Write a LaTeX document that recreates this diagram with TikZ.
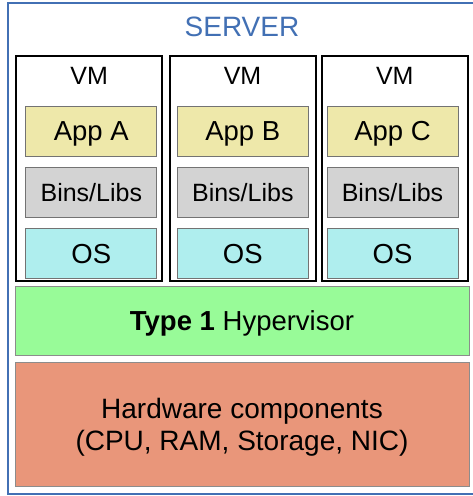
\documentclass[tikz,border=0pt]{standalone}
\usepackage{fontspec}
\setmainfont{Liberation Sans}
\usetikzlibrary{positioning}

\definecolor{serverblue}{RGB}{66,112,180}
\definecolor{appyellow}{RGB}{238,232,170}
\definecolor{binsgray}{RGB}{211,211,211}
\definecolor{oscyan}{RGB}{175,238,238}
\definecolor{hvgreen}{RGB}{152,251,152}
\definecolor{hwsalmon}{RGB}{233,150,122}

\begin{document}
\begin{tikzpicture}[x=1pt,y=-1pt,
    vmbox/.style={draw=black, line width=2pt, minimum width=146pt, minimum height=225pt, inner sep=0pt},
    vmlabel/.style={font=\fontsize{25}{29}\selectfont, inner sep=0pt, text height=17.9pt, text depth=0pt},
    layer/.style={draw=black!55, line width=0.9pt, inner sep=0pt, minimum width=131pt, minimum height=50pt, text depth=0pt},
    wide/.style={draw=black!45, line width=0.9pt, inner sep=0pt, minimum width=454pt, align=center}]
    \path [use as bounding box] (0,0) rectangle (472,496);
    \draw [serverblue, line width=2pt] (8,3) rectangle (490,494);
    \node [serverblue, font=\fontsize{28}{32}\selectfont, inner sep=0pt, text height=20pt, text depth=0pt] (server) at (242,26.7) {SERVER};
    % three virtual machines
    \foreach \vx/\bx/\app [count=\i] in {89.2/91.3/A, 242.5/242.8/B, 394.8/392.5/C}
    {
      \node [vmbox] (vm\i) at (\vx,168.5) {};
      \node [vmlabel] (vmlabel\i) at (\vx,76) {VM};
      \node [layer, fill=appyellow, font=\fontsize{27.5}{31}\selectfont, text height=19.7pt] (app\i) at (\bx,131) {App \app};
      \node [layer, fill=binsgray, font=\fontsize{25}{29}\selectfont, text height=17.9pt, below=11pt of app\i] (bins\i) {Bins/Libs};
      \node [layer, fill=oscyan, font=\fontsize{27.5}{31}\selectfont, text height=19.7pt, below=10pt of bins\i] (os\i) {OS};
    }
    \node [wide, fill=hvgreen, minimum height=69pt, font=\fontsize{27.5}{31}\selectfont, text height=19.7pt, text depth=0pt] (hypervisor) at (242,320.5) {\textbf{Type 1} Hypervisor};
    \node [wide, fill=hwsalmon, minimum height=124pt, font=\fontsize{28}{32}\selectfont, text height=52pt, text depth=0pt] (hardware) at (242,424) {Hardware components\\(CPU, RAM, Storage, NIC)};
\end{tikzpicture}
\end{document}
